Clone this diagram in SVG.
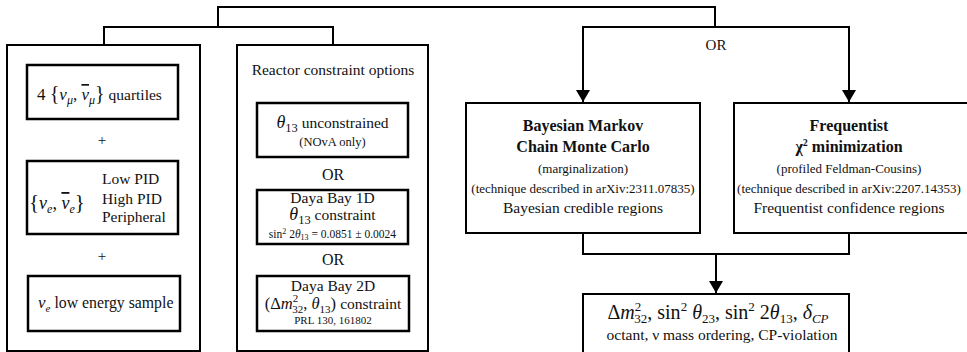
<svg xmlns="http://www.w3.org/2000/svg" width="967" height="352" viewBox="0 0 967 352">
<defs>
<marker id="arr" markerUnits="userSpaceOnUse" markerWidth="14" markerHeight="14" refX="12" refY="7" orient="auto">
<path d="M0,0 L12,7 L0,14 Z" fill="#000"/>
</marker>
<style>
.box{fill:#fff;stroke:#000;stroke-width:2}
.ibox{fill:#fff;stroke:#000;stroke-width:2.5}
.ln{fill:none;stroke:#000;stroke-width:2}
text{font-family:"Liberation Serif","Times New Roman",serif;fill:#111}
.c{text-anchor:middle}
.i{font-style:italic}
.b{font-weight:bold}
.ov{text-decoration:overline}
</style>
</defs>
<rect width="967" height="352" fill="#fff"/>

<g id="connectors">
<path class="ln" d="M104 45 V27 H333 V45"/>
<path class="ln" d="M218 27 V7 H715 V27"/>
<path class="ln" d="M715 27 H583 V102" marker-end="url(#arr)"/>
<path class="ln" d="M715 27 H849 V102" marker-end="url(#arr)"/>
<path class="ln" d="M583 233 V254 H849 V233"/>
<path class="ln" d="M716 254 V293" marker-end="url(#arr)"/>
<text class="c" x="716" y="50" font-size="15">OR</text>
</g>

<g id="samples">
<rect class="box" x="7" y="45" width="193" height="306"/>
<g id="numu">
<rect class="ibox" x="27" y="65" width="151" height="54"/>
<text x="37" y="100" font-size="17">4 <tspan font-size="20">{</tspan><tspan class="i">ν</tspan><tspan class="i" font-size="12" dy="4">μ</tspan><tspan dy="-4">, </tspan><tspan class="i ov">ν</tspan><tspan class="i" font-size="12" dy="4">μ</tspan><tspan dy="-4" font-size="20">}</tspan><tspan font-size="15.5"> quartiles</tspan></text>
</g>
<text class="c" x="102" y="145" font-size="15">+</text>
<g id="nue">
<rect class="ibox" x="27" y="161" width="151" height="73"/>
<text x="29" y="209" font-size="18"><tspan font-size="21">{</tspan><tspan class="i">ν</tspan><tspan class="i" font-size="12" dy="4">e</tspan><tspan dy="-4">, </tspan><tspan class="i ov">ν</tspan><tspan class="i" font-size="12" dy="4">e</tspan><tspan dy="-4" font-size="21">}</tspan></text>
<text x="102" y="183.5" font-size="15.5">Low PID</text>
<text x="102" y="203.5" font-size="15.5">High PID</text>
<text x="102" y="222" font-size="15.5">Peripheral</text>
</g>
<text class="c" x="102" y="261" font-size="15">+</text>
<g id="nue-low">
<rect class="ibox" x="28" y="276" width="152" height="55"/>
<text x="38" y="308" font-size="15.8"><tspan class="i" font-size="17">ν</tspan><tspan class="i" font-size="11" dy="4">e</tspan><tspan dy="-4"> low energy sample</tspan></text>
</g>
</g>

<g id="reactor">
<rect class="box" x="237" y="45" width="191" height="306"/>
<text class="c" x="333" y="75" font-size="15.5">Reactor constraint options</text>
<g id="unconstrained">
<rect class="ibox" x="257" y="103" width="151" height="54"/>
<text class="c" x="332.5" y="128" font-size="15.5"><tspan class="i" font-size="18">θ</tspan><tspan font-size="12.5" dy="4">13</tspan><tspan dy="-4"> unconstrained</tspan></text>
<text class="c" x="332.5" y="146" font-size="12.5">(NOvA only)</text>
</g>
<text class="c" x="333" y="180" font-size="16">OR</text>
<g id="dayabay1d">
<rect class="ibox" x="257" y="190" width="151" height="54"/>
<text class="c" x="332.5" y="203" font-size="15.5">Daya Bay 1D</text>
<text class="c" x="332.5" y="220" font-size="15.5"><tspan class="i" font-size="18">θ</tspan><tspan font-size="12.5" dy="4">13</tspan><tspan dy="-4"> constraint</tspan></text>
<text class="c" x="332.5" y="238" font-size="11.5">sin<tspan font-size="8" dy="-4">2</tspan><tspan dy="4"> 2</tspan><tspan class="i">θ</tspan><tspan font-size="8" dy="2">13</tspan><tspan dy="-2"> = 0.0851 ± 0.0024</tspan></text>
</g>
<text class="c" x="333" y="265" font-size="16">OR</text>
<g id="dayabay2d">
<rect class="ibox" x="257" y="276" width="152" height="55"/>
<text class="c" x="333" y="291" font-size="15.5">Daya Bay 2D</text>
<text class="c" x="333" y="309" font-size="16.5">(Δ<tspan class="i">m</tspan><tspan font-size="11" dy="-7">2</tspan><tspan font-size="11" dx="-6" dy="11">32</tspan><tspan dy="-4">, </tspan><tspan class="i">θ</tspan><tspan font-size="11" dy="4">13</tspan><tspan dy="-4">) </tspan><tspan font-size="15.5">constraint</tspan></text>
<text class="c" x="333" y="324" font-size="11">PRL 130, 161802</text>
</g>
</g>

<g id="bayesian">
<rect class="box" x="466" y="103" width="234" height="130"/>
<text class="c b" x="583" y="131" font-size="16">Bayesian Markov</text>
<text class="c b" x="583" y="152" font-size="16">Chain Monte Carlo</text>
<text class="c" x="583" y="173" font-size="13">(marginalization)</text>
<text class="c" x="583" y="193" font-size="13">(technique described in arXiv:2311.07835)</text>
<text class="c" x="583" y="213" font-size="15.5">Bayesian credible regions</text>
</g>

<g id="frequentist">
<rect class="box" x="734" y="103" width="240" height="130"/>
<text class="c b" x="849" y="131" font-size="16">Frequentist</text>
<text class="c b" x="849" y="152" font-size="16">χ<tspan font-size="10" dy="-6">2</tspan><tspan dy="6"> minimization</tspan></text>
<text class="c" x="849" y="173" font-size="13">(profiled Feldman-Cousins)</text>
<text class="c" x="849" y="193" font-size="13">(technique described in arXiv:2207.14353)</text>
<text class="c" x="849" y="213" font-size="15.5">Frequentist confidence regions</text>
</g>

<g id="results">
<rect class="box" x="583" y="294" width="266" height="62"/>
<text class="c" x="718" y="319" font-size="20">Δ<tspan class="i">m</tspan><tspan font-size="13" dy="-8">2</tspan><tspan font-size="13" dx="-7" dy="12">32</tspan><tspan dy="-4">, sin</tspan><tspan font-size="13" dy="-8">2</tspan><tspan dy="8"> </tspan><tspan class="i">θ</tspan><tspan font-size="13" dy="4">23</tspan><tspan dy="-4">, sin</tspan><tspan font-size="13" dy="-8">2</tspan><tspan dy="8"> 2</tspan><tspan class="i">θ</tspan><tspan font-size="13" dy="4">13</tspan><tspan dy="-4">, </tspan><tspan class="i">δ</tspan><tspan class="i" font-size="13" dy="4">CP</tspan></text>
<text class="c" x="722" y="340" font-size="15.5">octant, ν mass ordering, CP-violation</text>
</g>
</svg>
